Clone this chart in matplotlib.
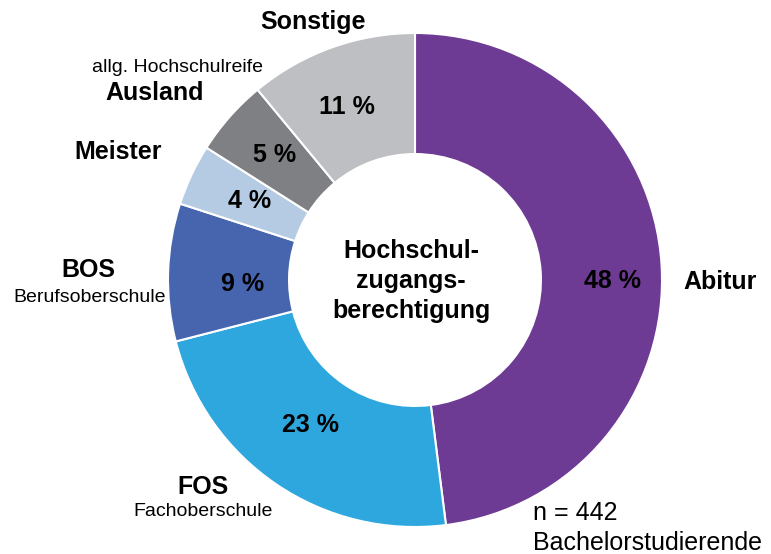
import matplotlib.pyplot as plt

plt.rcParams['font.family'] = ['Liberation Sans', 'DejaVu Sans']

categories = ['Abitur', 'FOS', 'BOS', 'Meister', 'Ausland', 'Sonstige']
shares = [48, 23, 9, 4, 5, 11]
colors = ['#6D3A94', '#2DA7DE', '#4765AE', '#B5CBE3', '#7F8083', '#BEBFC2']
n_total = 442

W, H = 771, 554
fig = plt.figure(figsize=(W / 100, H / 100), dpi=100)
ax = fig.add_axes([0, 0, 1, 1])

cx, cy, R = 415, H - 280, 247
wedges, _, autotexts = ax.pie(
    shares, colors=colors, startangle=90, counterclock=False,
    center=(cx, cy), radius=R, frame=True,
    wedgeprops=dict(width=R * 0.49, edgecolor='white', linewidth=1.5),
    autopct=lambda p: f'{round(p)} %', pctdistance=0.76,
    textprops=dict(fontsize=18, fontweight='bold', color='black'))
ax.set_xlim(0, W)
ax.set_ylim(0, H)
ax.set_aspect('equal')
ax.axis('off')

# nudge percentage labels to where the reference puts them (pixel coords)
pct_pos = [(612, 281), (311, 425), (243, 284), (250, 201), (275, 155), (347, 107)]
for t, (x, y) in zip(autotexts, pct_pos):
    t.set_position((x, H - y))


def txt(x, y, s, bold=True, size=18, ha='center', **kw):
    ax.text(x, H - y, s, ha=ha, va='center', fontsize=size,
            fontweight='bold' if bold else 'normal', color='black', **kw)


# center
txt(411, 281, 'Hochschul-\nzugangs-\nberechtigung', linespacing=1.3)

# outer category labels
txt(720, 282, 'Abitur')
txt(203, 487, 'FOS')
txt(203, 511, 'Fachoberschule', bold=False, size=14)
txt(88, 270, 'BOS')
txt(90, 297, 'Berufsoberschule', bold=False, size=14)
txt(118, 152, 'Meister')
txt(155, 93, 'Ausland')
txt(178, 67, 'allg. Hochschulreife', bold=False, size=14)
txt(313, 22, 'Sonstige')

txt(533, 513, f'n = {n_total}', bold=False, ha='left')
txt(533, 543, 'Bachelorstudierende', bold=False, ha='left')

fig.savefig('out.png', dpi=100)
